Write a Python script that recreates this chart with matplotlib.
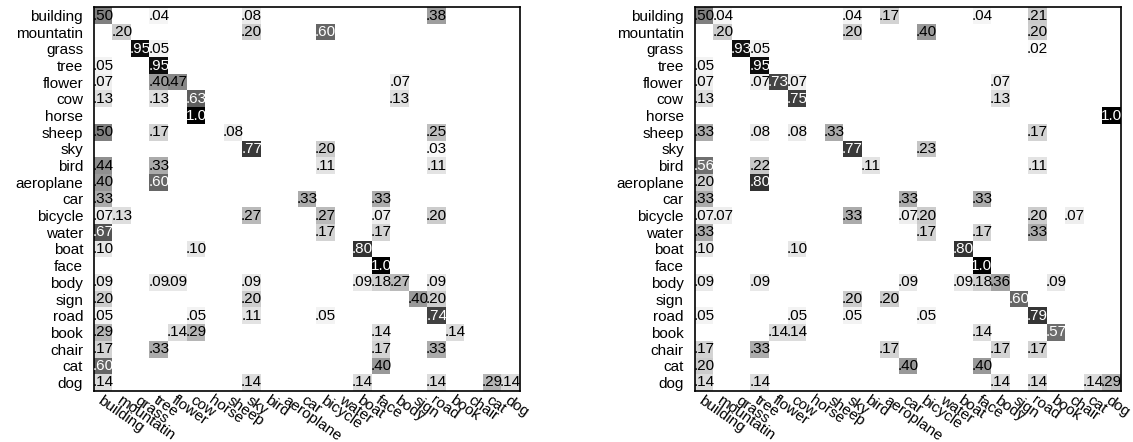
import numpy as np
import matplotlib
matplotlib.use("Agg")
import matplotlib.pyplot as plt

plt.rcParams['font.family'] = ['Liberation Sans', 'DejaVu Sans']

labels = ["building", "mountatin", "grass", "tree", "flower", "cow", "horse",
          "sheep", "sky", "bird", "aeroplane", "car", "bicycle", "water",
          "boat", "face", "body", "sign", "road", "book", "chair", "cat", "dog"]

# row = true class, inner dict = predicted class -> rate (zeros left out)
left_rows = {
    "building":  {"building": .50, "tree": .04, "sky": .08, "road": .38},
    "mountatin": {"mountatin": .20, "sky": .20, "bicycle": .60},
    "grass":     {"grass": .95, "tree": .05},
    "tree":      {"building": .05, "tree": .95},
    "flower":    {"building": .07, "tree": .40, "flower": .47, "body": .07},
    "cow":       {"building": .13, "tree": .13, "cow": .63, "body": .13},
    "horse":     {"cow": 1.0},
    "sheep":     {"building": .50, "tree": .17, "sheep": .08, "road": .25},
    "sky":       {"sky": .77, "bicycle": .20, "road": .03},
    "bird":      {"building": .44, "tree": .33, "bicycle": .11, "road": .11},
    "aeroplane": {"building": .40, "tree": .60},
    "car":       {"building": .33, "car": .33, "face": .33},
    "bicycle":   {"building": .07, "mountatin": .13, "sky": .27, "bicycle": .27,
                  "face": .07, "road": .20},
    "water":     {"building": .67, "bicycle": .17, "face": .17},
    "boat":      {"building": .10, "cow": .10, "boat": .80},
    "face":      {"face": 1.0},
    "body":      {"building": .09, "tree": .09, "flower": .09, "sky": .09,
                  "boat": .09, "face": .18, "body": .27, "road": .09},
    "sign":      {"building": .20, "sky": .20, "sign": .40, "road": .20},
    "road":      {"building": .05, "cow": .05, "sky": .11, "bicycle": .05, "road": .74},
    "book":      {"building": .29, "flower": .14, "cow": .29, "face": .14, "book": .14},
    "chair":     {"building": .17, "tree": .33, "face": .17, "road": .33},
    "cat":       {"building": .60, "face": .40},
    "dog":       {"building": .14, "sky": .14, "boat": .14, "road": .14,
                  "cat": .29, "dog": .14},
}

right_rows = {
    "building":  {"building": .50, "mountatin": .04, "sky": .04, "aeroplane": .17,
                  "face": .04, "road": .21},
    "mountatin": {"mountatin": .20, "sky": .20, "bicycle": .40, "road": .20},
    "grass":     {"grass": .93, "tree": .05, "road": .02},
    "tree":      {"building": .05, "tree": .95},
    "flower":    {"building": .07, "tree": .07, "flower": .73, "cow": .07, "body": .07},
    "cow":       {"building": .13, "cow": .75, "body": .13},
    "horse":     {"dog": 1.0},
    "sheep":     {"building": .33, "tree": .08, "cow": .08, "sheep": .33, "road": .17},
    "sky":       {"sky": .77, "bicycle": .23},
    "bird":      {"building": .56, "tree": .22, "bird": .11, "road": .11},
    "aeroplane": {"building": .20, "tree": .80},
    "car":       {"building": .33, "car": .33, "face": .33},
    "bicycle":   {"building": .07, "mountatin": .07, "sky": .33, "car": .07,
                  "bicycle": .20, "road": .20, "chair": .07},
    "water":     {"building": .33, "bicycle": .17, "face": .17, "road": .33},
    "boat":      {"building": .10, "cow": .10, "boat": .80},
    "face":      {"face": 1.0},
    "body":      {"building": .09, "tree": .09, "car": .09, "boat": .09,
                  "face": .18, "body": .36, "book": .09},
    "sign":      {"sky": .20, "aeroplane": .20, "sign": .60},
    "road":      {"building": .05, "cow": .05, "sky": .05, "bicycle": .05, "road": .79},
    "book":      {"flower": .14, "cow": .14, "face": .14, "book": .57},
    "chair":     {"building": .17, "tree": .33, "aeroplane": .17, "body": .17, "road": .17},
    "cat":       {"building": .20, "car": .40, "face": .40},
    "dog":       {"building": .14, "tree": .14, "body": .14, "road": .14,
                  "cat": .14, "dog": .29},
}


def to_matrix(rows):
    n = len(labels)
    m = np.zeros((n, n))
    for r, preds in rows.items():
        for c, v in preds.items():
            m[labels.index(r), labels.index(c)] = v
    return m


def fmt(v):
    if v >= 1:
        return "1.0"
    return f"{v:.2f}".lstrip("0")


def draw(ax, m):
    n = len(labels)
    ax.imshow(m, cmap="gray_r", vmin=0, vmax=1, aspect="auto",
              interpolation="nearest")
    for i in range(n):
        for j in range(n):
            v = m[i, j]
            if v > 0:
                ax.text(j, i, fmt(v), ha="center", va="center", fontsize=11,
                        color="white" if v > 0.55 else "black")
    ax.set_xticks(range(n))
    ax.set_yticks(range(n))
    ax.set_xticklabels(labels, rotation=-35, ha="left", va="top",
                       rotation_mode="anchor", fontsize=11)
    ax.set_yticklabels(labels, fontsize=11)
    ax.tick_params(length=0, pad=8)
    ax.tick_params(axis="x", pad=2)
    for s in ax.spines.values():
        s.set_linewidth(1.2)


fig = plt.figure(figsize=(11.33, 4.42), dpi=100)
ax1 = fig.add_axes([0.0832, 0.1161, 0.3757, 0.8674])
ax2 = fig.add_axes([0.6134, 0.1161, 0.3757, 0.8674])
draw(ax1, to_matrix(left_rows))
draw(ax2, to_matrix(right_rows))

fig.savefig("out.png", dpi=100)
